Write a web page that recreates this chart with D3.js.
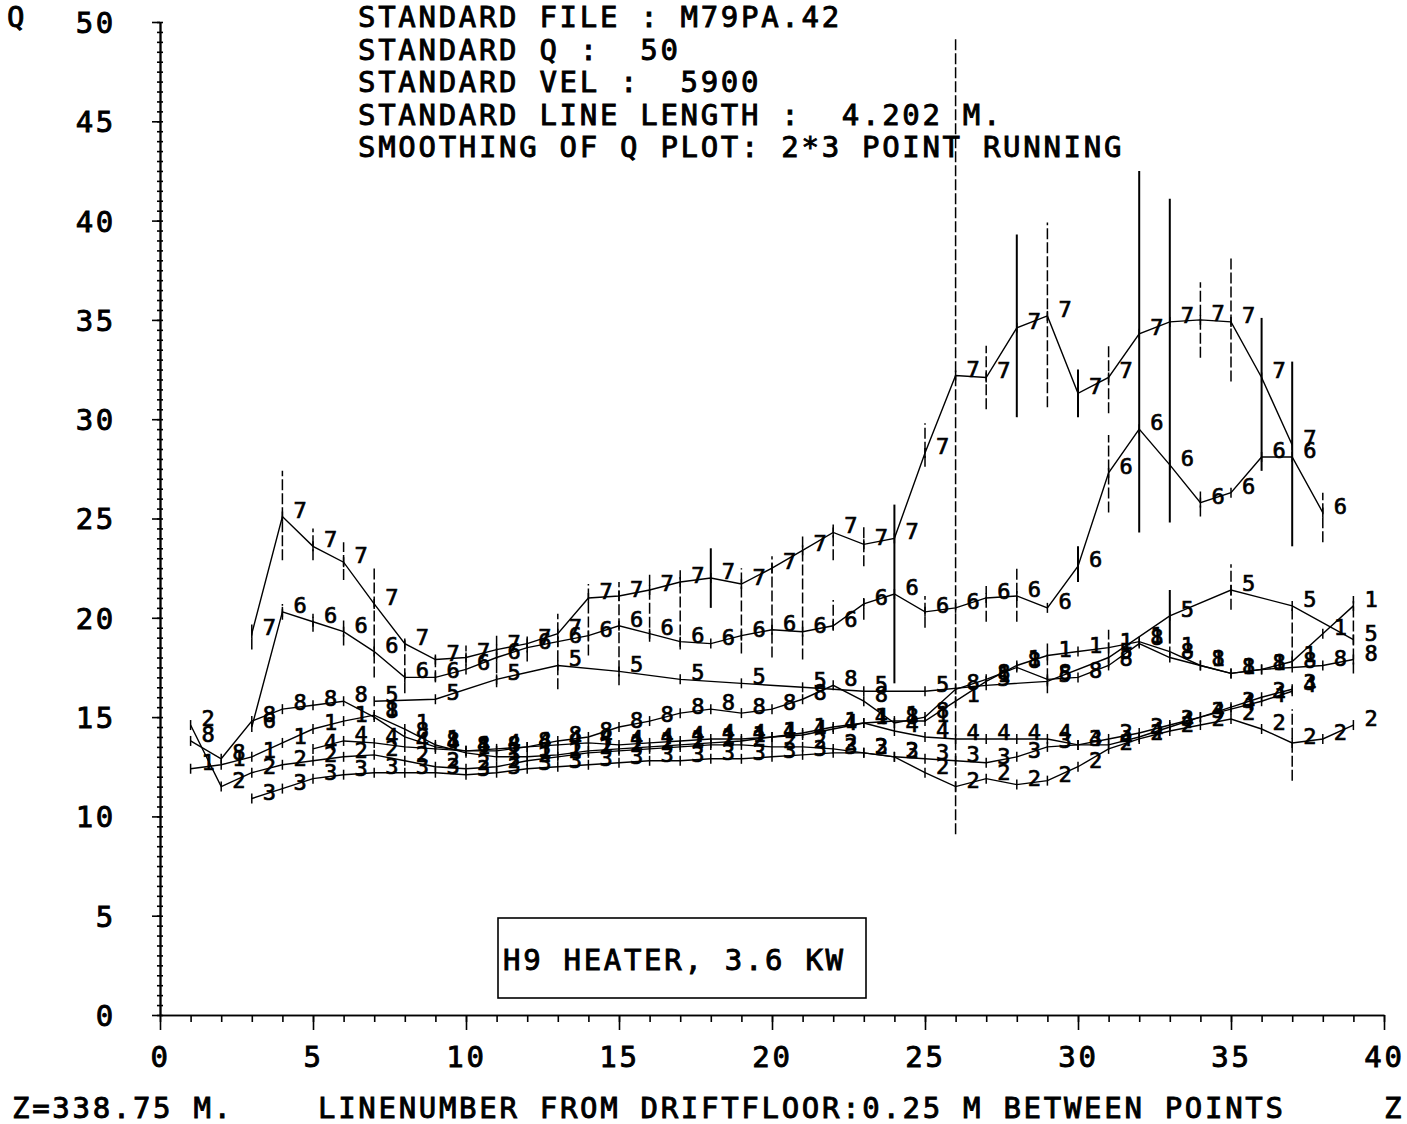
<!DOCTYPE html>
<html>
<head>
<meta charset="utf-8">
<script src="https://cdn.jsdelivr.net/npm/d3@7/dist/d3.min.js"></script>
<style>
  body { margin: 0; background: #fff; }
  text { font-family: "DejaVu Sans Mono", monospace; fill: #000; }
  .big { font-size: 29px; letter-spacing: 2.7px; stroke: #000; stroke-width: 0.9px; }
  .digit { font-size: 22px; stroke: #000; stroke-width: 0.7px; }
</style>
</head>
<body>
<div id="chart"></div>
<script>
// Line numbers along the drift floor (0.25 m between points)
const lineNumbers = [1, 2, 3, 4, 5, 6, 7, 8, 9, 10, 11, 12, 13, 14, 15, 16, 17, 18, 19, 20,
    21, 22, 23, 24, 25, 26, 27, 28, 29, 30, 31, 32, 33, 34, 35, 36, 37, 38, 39];

// Q values per series (null = no measurement at that line)
const q1 = [12.4, 12.6, 13.0, 13.7, 14.4, 14.8, 15.1, 14.4, 13.6, 13.2,
    13.0, 13.0, 13.1, 13.3, 13.4, 13.5, 13.6, 13.7, 13.8, 14.0,
    14.2, 14.5, 14.7, 14.8, 14.8, 15.8, 16.8, 17.6, 18.1, 18.3,
    18.5, 18.8, 18.3, 17.6, 17.2, 17.4, 17.8, 19.2, 20.6];
const q2 = [14.6, 11.5, 12.2, 12.6, 12.8, 13.0, 13.1, 12.8, 12.5, 12.4,
    12.5, 12.8, 13.0, 13.2, 13.3, 13.4, 13.5, 13.6, 13.6, 13.5,
    13.5, 13.4, 13.2, 13.0, 12.2, 11.5, 11.9, 11.6, 11.8, 12.5,
    13.4, 13.9, 14.3, 14.6, 14.9, 14.4, 13.7, 13.9, 14.6];
const q3 = [null, null, 10.9, 11.4, 11.9, 12.1, 12.2, 12.2, 12.2, 12.1,
    12.2, 12.4, 12.5, 12.6, 12.7, 12.8, 12.8, 12.9, 12.9, 13.0,
    13.1, 13.2, 13.2, 13.0, 12.9, 12.8, 12.7, 13.0, 13.5, 13.6,
    13.9, 14.2, 14.6, 15.0, 15.5, 16.0, 16.4, null, null];
const q4 = [null, null, null, null, 13.4, 13.8, 13.7, 13.5, 13.4, 13.3,
    13.4, 13.5, 13.6, 13.7, 13.6, 13.7, 13.8, 13.9, 13.9, 14.0,
    14.1, 14.4, 14.7, 14.3, 14.0, 13.9, 13.9, 13.9, 13.9, 13.6,
    13.6, 14.0, 14.5, 15.0, 15.4, 15.8, 16.3, null, null];
const q5 = [null, null, null, null, null, null, 15.8, null, 15.9, null,
    16.9, null, 17.6, null, 17.3, null, 16.9, null, 16.7, null,
    16.5, null, 16.3, null, 16.3, null, 16.6, null, 16.8, null,
    18.0, null, 20.1, null, 21.4, null, 20.6, null, 18.9];
const q6 = [null, null, 14.5, 20.3, 19.8, 19.3, 18.3, 17.0, 17.0, 17.4,
    18.0, 18.5, 18.8, 19.1, 19.6, 19.2, 18.8, 18.7, 19.1, 19.4,
    19.3, 19.6, 20.7, 21.2, 20.3, 20.5, 21.0, 21.1, 20.5, 22.6,
    27.3, 29.5, 27.7, 25.8, 26.3, 28.1, 28.1, 25.3, null];
const q7 = [null, null, 19.2, 25.1, 23.6, 22.8, 20.7, 18.7, 17.9, 18.0,
    18.4, 18.7, 19.2, 21.0, 21.1, 21.4, 21.8, 22.0, 21.7, 22.5,
    23.4, 24.3, 23.7, 24.0, 28.3, 32.2, 32.1, 34.6, 35.2, 31.3,
    32.1, 34.3, 34.9, 35.0, 34.9, 32.1, 28.7, null, null];
const q8 = [13.8, 12.9, 14.8, 15.4, 15.6, 15.8, 15.0, 14.0, 13.5, 13.3,
    13.3, 13.5, 13.8, 14.0, 14.5, 14.8, 15.2, 15.4, 15.2, 15.4,
    15.9, 16.6, 15.8, 14.7, 15.0, 16.4, 16.9, 17.5, 16.9, 17.0,
    17.6, 18.7, 18.0, 17.6, 17.2, 17.4, 17.5, 17.6, 17.9];

const seriesNames = ["1", "2", "3", "4", "5", "6", "7", "8"];
const seriesValues = [q1, q2, q3, q4, q5, q6, q7, q8];

// Scatter bars [line, low Q, high Q]
const dashedBars = [
    [3, 18.4, 19.7], [4, 22.9, 27.4], [4, 19.9, 20.7], [5, 22.9, 24.5], [5, 19.3, 20.2],
    [6, 21.9, 23.8], [6, 18.6, 19.9], [7, 17.0, 22.5], [8, 16.2, 18.9], [9, 16.8, 18.2],
    [10, 17.6, 18.6], [11, 16.5, 19.1], [12, 17.8, 19.2], [13, 16.4, 20.2], [14, 18.1, 21.7],
    [15, 16.6, 21.8], [16, 18.8, 22.3], [17, 18.4, 22.4], [19, 18.2, 22.5], [20, 18.0, 23.1],
    [21, 17.9, 24.2], [22, 22.9, 24.7], [22, 19.4, 20.9], [23, 22.6, 24.6], [23, 19.9, 21.0],
    [25, 27.6, 29.8], [25, 19.5, 21.1], [26, 9.1, 49.2], [27, 30.5, 33.7], [27, 19.8, 21.6],
    [28, 19.8, 22.6], [29, 30.6, 39.9], [29, 16.2, 18.7], [31, 30.3, 33.8], [31, 25.3, 29.2],
    [31, 17.5, 19.4], [34, 33.1, 36.9], [34, 25.1, 26.5], [35, 31.9, 38.1], [35, 20.4, 22.7],
    [37, 11.8, 15.4], [37, 17.8, 20.6], [38, 23.8, 26.3], [39, 17.2, 21.1]
];
const solidBars = [
    [18, 20.5, 23.5], [24, 16.7, 25.7], [28, 30.1, 39.3], [30, 30.1, 32.5], [30, 21.8, 23.6],
    [32, 24.3, 42.5], [33, 24.8, 41.1], [33, 18.7, 21.4], [36, 27.4, 35.1], [37, 23.6, 32.9]
];

const xTicks = [0, 5, 10, 15, 20, 25, 30, 35, 40];
const yTicks = [0, 5, 10, 15, 20, 25, 30, 35, 40, 45, 50];

const headerLines = [
    "STANDARD FILE : M79PA.42",
    "STANDARD Q :  50",
    "STANDARD VEL :  5900",
    "STANDARD LINE LENGTH :  4.202 M.",
    "SMOOTHING OF Q PLOT: 2*3 POINT RUNNING"
];
const boxLabel = "H9 HEATER, 3.6 KW";

function drawChart() {
    const W = 1407, H = 1124;
    const svg = d3.select("#chart").append("svg")
        .attr("width", W)
        .attr("height", H)
        .style("display", "block");

    const x = d3.scaleLinear().domain([0, 40]).range([160, 1384]);
    const y = d3.scaleLinear().domain([0, 50]).range([1015, 22]);

    // y axis: minor ticks every 0.5 crossing the line, major ticks to the left
    svg.append("g")
        .attr("transform", `translate(${x(0)},0)`)
        .call(d3.axisRight(y).tickValues(d3.range(0, 50.01, 0.5)).tickSize(3).tickFormat("").tickSizeOuter(0));
    svg.append("g")
        .attr("transform", `translate(${x(0)},0)`)
        .call(d3.axisLeft(y).tickValues(d3.range(0, 50.01, 0.5)).tickSize(3).tickFormat("").tickSizeOuter(0));
    const yAxis = svg.append("g")
        .attr("transform", `translate(${x(0)},0)`)
        .call(d3.axisLeft(y).tickValues(yTicks).tickSize(8).tickPadding(36).tickSizeOuter(0)
            .tickFormat(d3.format("d")));
    yAxis.selectAll("text").attr("class", "big").attr("dy", "0.36em").attr("font-family", null).attr("font-size", null);

    // x axis: minor ticks every line, major every 5
    svg.append("g")
        .attr("transform", `translate(0,${y(0)})`)
        .call(d3.axisBottom(x).tickValues(d3.range(0, 41, 1)).tickSize(7).tickFormat("").tickSizeOuter(0));
    const xAxis = svg.append("g")
        .attr("transform", `translate(0,${y(0)})`)
        .call(d3.axisBottom(x).tickValues(xTicks).tickSize(15).tickPadding(16).tickSizeOuter(0)
            .tickFormat(d3.format("d")));
    xAxis.selectAll("text").attr("class", "big").attr("font-family", null).attr("font-size", null);

    svg.selectAll(".domain, .tick line").attr("stroke", "#000").attr("stroke-width", 1.6);

    // scatter bars
    svg.append("g").selectAll("line")
        .data(dashedBars)
        .join("line")
        .attr("x1", d => x(d[0])).attr("x2", d => x(d[0]))
        .attr("y1", d => y(d[1])).attr("y2", d => y(d[2]))
        .attr("stroke", "#000").attr("stroke-width", 1.5)
        .attr("stroke-dasharray", "11,3");
    svg.append("g").selectAll("line")
        .data(solidBars)
        .join("line")
        .attr("x1", d => x(d[0])).attr("x2", d => x(d[0]))
        .attr("y1", d => y(d[1])).attr("y2", d => y(d[2]))
        .attr("stroke", "#000").attr("stroke-width", 2);

    // series lines, point ticks and number labels
    const line = d3.line().x(d => x(d.n)).y(d => y(d.q));
    seriesValues.forEach((vals, i) => {
        const pts = lineNumbers.map((n, j) => ({ n, q: vals[j] })).filter(d => d.q != null);
        const g = svg.append("g");
        g.append("path")
            .datum(pts)
            .attr("fill", "none")
            .attr("stroke", "#000")
            .attr("stroke-width", 1.4)
            .attr("d", line);
        g.selectAll("line")
            .data(pts)
            .join("line")
            .attr("x1", d => x(d.n)).attr("x2", d => x(d.n))
            .attr("y1", d => y(d.q) - 5).attr("y2", d => y(d.q) + 5)
            .attr("stroke", "#000").attr("stroke-width", 1.5);
        g.selectAll("text")
            .data(pts)
            .join("text")
            .attr("class", "digit")
            .attr("x", d => x(d.n) + 11)
            .attr("y", d => y(d.q) + 1)
            .text(seriesNames[i]);
    });

    // header block
    svg.append("g").selectAll("text")
        .data(headerLines)
        .join("text")
        .attr("class", "big")
        .attr("x", 358)
        .attr("y", (d, i) => 27 + i * 32.5)
        .style("white-space", "pre")
        .text(d => d);

    // axis titles
    svg.append("text").attr("class", "big").attr("x", 7).attr("y", 27).text("Q");
    svg.append("text").attr("class", "big").attr("x", 12).attr("y", 1118).text("Z=338.75 M.");
    svg.append("text").attr("class", "big").attr("x", 318).attr("y", 1118)
        .text("LINENUMBER FROM DRIFTFLOOR:0.25 M BETWEEN POINTS");
    svg.append("text").attr("class", "big").attr("x", 1384).attr("y", 1118).text("Z");

    // heater box
    svg.append("rect")
        .attr("x", 498).attr("y", 918).attr("width", 368).attr("height", 80)
        .attr("fill", "none").attr("stroke", "#000").attr("stroke-width", 1.6);
    svg.append("text").attr("class", "big").attr("x", 503).attr("y", 970).text(boxLabel);
}

drawChart();
</script>
</body>
</html>
